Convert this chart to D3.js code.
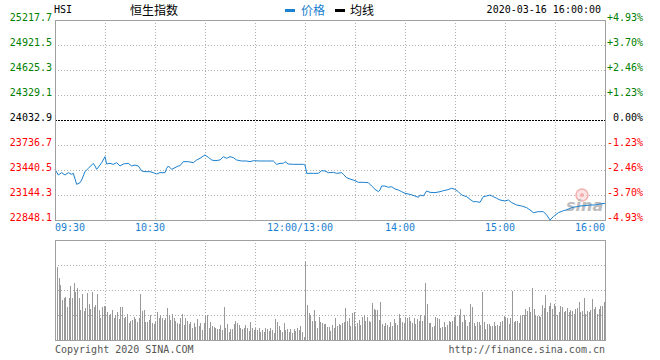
<!DOCTYPE html>
<html>
<head>
<meta charset="utf-8">
<script src="https://cdn.jsdelivr.net/npm/d3@7"></script>
<style>
  html, body { margin: 0; padding: 0; background: #fff; }
  svg { display: block; }
  text { font-family: "DejaVu Sans Mono", "Liberation Mono", monospace; font-size: 10px; }
  .cjk { font-family: "Noto Sans CJK SC", sans-serif; font-size: 12px; }
</style>
</head>
<body>
<svg id="chart" width="660" height="360"></svg>
<script>
// ---------- data ----------
const symbol = "HSI";
const title = "恒生指数";
const legendPrice = "价格";
const legendAvg = "均线";
const stamp = "2020-03-16 16:00:00";
const prevClose = 24032.9;
const priceTickLabels = ["25217.7","24921.5","24625.3","24329.1","24032.9","23736.7","23440.5","23144.3","22848.1"];
const pctTickLabels = ["+4.93%","+3.70%","+2.46%","+1.23%","0.00%","-1.23%","-2.46%","-3.70%","-4.93%"];
const timeLabels = ["09:30","10:30","12:00/13:00","14:00","15:00","16:00"];
const timeLabelMinutes = [0, 60, 150, 210, 270, 330];
const gridMinutes = [30, 60, 90, 120, 150, 180, 210, 240, 270, 300];

// price readings: minute since 09:30 (lunch break removed) and index value
const priceMinutes = [0,2,4,6,8,10,11,13,15,16,18,20,23,24,25,27,28,30,31,33,35,37,39,41,44,46,48,50,52,54,57,59,61,63,66,67,68,70,72,74,75,77,80,83,85,87,89,90,92,94,96,99,101,103,105,107,109,112,115,117,119,123,127,131,133,135,137,138,140,143,149,150,151,155,158,160,162,164,167,169,172,173,175,177,180,182,185,188,190,192,194,195,196,198,200,202,204,206,208,210,213,216,218,219,221,223,225,228,231,233,235,238,240,242,244,247,249,251,253,255,257,259,261,263,265,267,270,272,274,277,280,283,285,287,290,293,295,297,299,302,305,307,309,311,313,315,318,321,324,327,330];
const priceValues = [23448.4,23381.3,23408.9,23381.3,23408.9,23389.2,23401.0,23270.7,23290.4,23322.0,23420.7,23460.3,23519.5,23487.9,23448.4,23499.7,23527.4,23598.5,23511.6,23519.5,23507.7,23527.4,23487.9,23511.6,23519.5,23487.9,23499.7,23487.9,23428.7,23420.7,23420.7,23408.9,23393.1,23408.9,23408.9,23460.3,23487.9,23448.4,23468.1,23487.9,23491.8,23539.2,23539.2,23527.4,23559.0,23578.8,23606.4,23618.2,23590.6,23559.0,23551.0,23559.0,23598.5,23578.8,23598.5,23586.6,23559.0,23547.1,23547.1,23539.2,23551.0,23547.1,23547.1,23547.1,23507.7,23519.5,23519.5,23539.2,23511.6,23507.7,23507.7,23499.7,23401.0,23401.0,23401.0,23432.6,23428.7,23408.9,23412.9,23401.0,23408.9,23389.2,23349.6,23333.9,23314.1,23294.4,23294.4,23290.4,23250.9,23211.4,23183.7,23203.5,23250.9,23250.9,23235.2,23243.0,23215.4,23203.5,23183.7,23164.1,23152.2,23132.5,23116.7,23144.3,23132.5,23191.7,23175.9,23171.9,23183.7,23195.6,23203.5,23223.3,23211.4,23183.7,23144.3,23124.5,23093.0,23065.3,23065.3,23057.4,23124.5,23132.5,23144.3,23124.5,23104.8,23085.1,23073.2,23085.1,23053.4,23025.8,23014.0,22994.2,22966.6,22934.9,22946.8,22946.8,22907.3,22848.1,22887.5,22934.9,22958.6,22966.6,22986.4,22998.2,23006.0,23014.0,23017.9,23025.8,23025.8,23037.7,23045.6];

// per-minute volume (relative units, minute 1..330)
const volumes = [
73,62,55,40,42,43,33,42,54,42,57,48,52,42,30,46,29,32,47,36,
31,48,33,35,46,30,22,33,34,33,28,25,26,30,22,25,28,21,33,33,
22,23,26,17,19,20,23,21,18,22,46,29,30,18,18,20,25,17,16,18,
28,22,25,22,20,22,32,25,20,26,22,19,17,16,22,26,15,22,19,16,
18,12,17,13,21,14,17,10,17,25,25,12,18,14,13,12,11,11,15,10,
33,12,16,8,11,11,16,19,17,
15,12,11,12,15,12,9,18,12,10,12,10,12,8,10,8,12,11,9,12,
10,7,21,18,14,10,8,17,10,11,8,11,7,11,9,12,10,14,8,3,
78,35,27,25,19,30,19,12,23,18,17,16,16,13,13,9,15,12,22,14,
16,15,17,18,32,19,22,14,27,28,14,17,20,15,23,25,19,23,19,18,
37,31,30,30,20,38,16,14,17,15,13,18,14,21,17,15,26,22,18,17,
23,22,23,19,17,22,16,21,19,25,19,24,57,36,17,
17,13,14,23,22,21,12,13,18,13,15,19,18,19,23,24,14,25,31,18,
25,20,14,18,36,33,17,14,18,18,15,48,18,11,16,16,14,14,18,14,
15,14,18,19,24,23,22,16,22,49,18,19,19,17,24,25,25,31,29,33,
28,52,31,25,24,24,23,35,32,45,28,34,37,31,36,34,25,28,34,33,
28,29,32,28,30,29,26,31,32,38,28,29,42,26,29,28,30,41,31,33,
26,31,34,34,38,45
];

// ---------- layout ----------
const svg = d3.select("#chart");
const L = 55, R = 605, T = 20, B = 220;
const VT = 240, VB = 340;
const gridColor = "#b0b0b0", borderColor = "#a0a0a0";
const blue = "#1a80cf";

const x = d3.scaleLinear().domain([0, 330]).range([L, R]);
const yMin = +priceTickLabels[priceTickLabels.length - 1], yMax = +priceTickLabels[0];
const y = d3.scaleLinear().domain([yMin, yMax]).range([B, T]);
const yTickVals = priceTickLabels.map(Number);
const yv = d3.scaleLinear().domain([0, 100]).range([VB, VT]);

// ---------- header ----------
svg.append("text").attr("x", 54).attr("y", 13).attr("fill", "#000").text(symbol);
svg.append("text").attr("class", "cjk").attr("x", 130).attr("y", 15).attr("fill", "#000").text(title);
svg.append("rect").attr("x", 285).attr("y", 9).attr("width", 10).attr("height", 3).attr("fill", blue);
svg.append("text").attr("class", "cjk").attr("x", 301).attr("y", 15).attr("fill", blue).text(legendPrice);
svg.append("rect").attr("x", 335).attr("y", 9).attr("width", 10).attr("height", 3).attr("fill", "#000");
svg.append("text").attr("class", "cjk").attr("x", 350).attr("y", 15).attr("fill", "#000").text(legendAvg);
svg.append("text").attr("x", 601).attr("y", 13).attr("text-anchor", "end").attr("fill", "#000").text(stamp);

// ---------- main grid ----------
const g = svg.append("g").attr("shape-rendering", "crispEdges");
yTickVals.slice(1, -1).forEach(v => {
  const isZero = Math.abs(v - prevClose) < 0.05;
  g.append("line").attr("x1", L).attr("x2", R)
    .attr("y1", Math.round(y(v)) + 0.5).attr("y2", Math.round(y(v)) + 0.5)
    .attr("stroke", isZero ? "#000" : gridColor)
    .attr("stroke-dasharray", isZero ? "2,1" : "1,2");
});
gridMinutes.forEach(m => {
  [[T, B], [VT, VB]].forEach(([a, b]) => {
    g.append("line").attr("x1", Math.round(x(m)) + 0.5).attr("x2", Math.round(x(m)) + 0.5)
      .attr("y1", a).attr("y2", b).attr("stroke", gridColor).attr("stroke-dasharray", "1,2");
  });
});
[265, 290, 315].forEach(pos => {
  const v = yv.invert(pos);
  g.append("line").attr("x1", L).attr("x2", R)
    .attr("y1", Math.round(yv(v)) + 0.5).attr("y2", Math.round(yv(v)) + 0.5)
    .attr("stroke", gridColor).attr("stroke-dasharray", "1,2");
});

// ---------- axes labels ----------
const colorFor = v => Math.abs(v - prevClose) < 0.05 ? "#000" : (v > prevClose ? "#008000" : "#ff0000");
priceTickLabels.forEach((lab, i) => {
  const v = +lab;
  svg.append("text").attr("x", 52).attr("y", y(v) + 1).attr("text-anchor", "end")
    .attr("fill", colorFor(v)).text(lab);
  svg.append("text").attr("x", 643).attr("y", y(v) + 1).attr("text-anchor", "end")
    .attr("fill", colorFor(v)).text(pctTickLabels[i]);
});
timeLabels.forEach((lab, i) => {
  const m = timeLabelMinutes[i];
  let anchor = "middle", px = x(m) - 5;
  if (i === 0) { anchor = "start"; px = x(m); }
  if (i === timeLabels.length - 1) { anchor = "end"; px = x(m); }
  svg.append("text").attr("x", px).attr("y", 231).attr("text-anchor", anchor)
    .attr("fill", blue).text(lab);
});

// ---------- watermark ----------
const wm = svg.append("g").attr("opacity", 0.7);
wm.append("circle").attr("cx", 582).attr("cy", 195).attr("r", 6)
  .attr("fill", "#fcdada").attr("stroke", "#f29090").attr("stroke-width", 1.5);
wm.append("circle").attr("cx", 582).attr("cy", 195).attr("r", 2).attr("fill", "#f29090");
wm.append("text").attr("x", 566).attr("y", 211)
  .style("font-family", "'DejaVu Sans', sans-serif").style("font-size", "16px")
  .style("font-style", "italic").style("font-weight", "bold")
  .attr("fill", "#a0a0a0").text("sina");

// ---------- price line ----------
const pts = priceMinutes.map((m, i) => [m, priceValues[i]]);
svg.append("path").datum(pts)
  .attr("fill", "none").attr("stroke", blue).attr("stroke-width", 1)
  .attr("d", d3.line().x(d => x(d[0])).y(d => y(d[1])));

// ---------- volume bars ----------
svg.append("g").attr("shape-rendering", "crispEdges")
  .selectAll("rect").data(volumes).join("rect")
  .attr("x", (d, i) => Math.round(x(i + 1) + 0.4))
  .attr("width", 1)
  .attr("y", d => yv(d))
  .attr("height", d => VB - yv(d))
  .attr("fill", "#999");

// ---------- borders ----------
const bd = svg.append("g").attr("shape-rendering", "crispEdges").attr("fill", "none").attr("stroke", borderColor);
bd.append("rect").attr("x", L + 0.5).attr("y", T + 0.5).attr("width", R - L).attr("height", B - T);
bd.append("rect").attr("x", L + 0.5).attr("y", VT + 0.5).attr("width", R - L).attr("height", VB - VT);

// ---------- footer ----------
svg.append("text").attr("x", 55).attr("y", 352.5).attr("fill", "#555").text("Copyright 2020 SINA.COM");
svg.append("text").attr("x", 605).attr("y", 352.5).attr("text-anchor", "end").attr("fill", "#555").text("http://finance.sina.com.cn");
</script>
</body>
</html>
